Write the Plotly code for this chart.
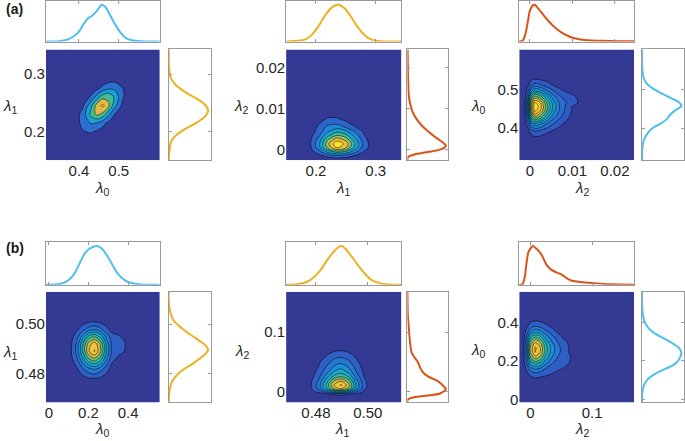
import plotly.graph_objects as go

W, H = 685, 441

# ---------------- axis ranges and ticks ----------------
lam0_a_range = [0.317, 0.603]
lam1_a_range = [0.150, 0.343]
lam2_a_range = [-0.0025, 0.0245]
lam0_b_range = [-0.015, 0.560]
lam1_b_range = [0.4685, 0.513]
lam2_b_range = [-0.018, 0.168]

lam0_a_ticks = [0.4, 0.5]
lam0_a_labels = ["0.4", "0.5"]
lam1_a_ticks = [0.2, 0.3]
lam1_a_labels = ["0.2", "0.3"]
lam2_a_ticks = [0, 0.01, 0.02]
lam2_a_labels = ["0", "0.01", "0.02"]
lam0_b_ticks = [0, 0.2, 0.4]
lam0_b_labels = ["0", "0.2", "0.4"]
lam1_b_ticks = [0.48, 0.50]
lam1_b_labels = ["0.48", "0.50"]
lam2_b_ticks = [0, 0.1]
lam2_b_labels = ["0", "0.1"]

# ---------------- marginal densities (normalised) ----------------
lam0_a_x = [0.317, 0.35, 0.37, 0.385, 0.40, 0.412, 0.423, 0.433, 0.445, 0.457, 0.467, 0.478, 0.49, 0.503, 0.516, 0.532, 0.555, 0.603]
lam0_a_d = [0, 0.01, 0.05, 0.13, 0.27, 0.48, 0.63, 0.70, 0.83, 1.0, 0.93, 0.72, 0.48, 0.26, 0.11, 0.035, 0.005, 0]

lam1_a_x = [0.15, 0.168, 0.1825, 0.193, 0.204, 0.215, 0.226, 0.237, 0.248, 0.259, 0.27, 0.281, 0.292, 0.309, 0.343]
lam1_a_d = [0, 0.02, 0.06, 0.18, 0.41, 0.70, 0.92, 1.0, 0.90, 0.66, 0.39, 0.18, 0.06, 0.01, 0]

lam2_a_x = [-0.0025, -0.0017, -0.0011, -0.0005, 0.0, 0.0006, 0.0011, 0.0021, 0.0033, 0.0044, 0.0059, 0.0075, 0.0094, 0.0113, 0.0135, 0.0166, 0.0211, 0.0245]
lam2_a_d = [0, 0.02, 0.18, 0.53, 0.83, 0.97, 1.0, 0.88, 0.70, 0.55, 0.38, 0.24, 0.13, 0.07, 0.035, 0.02, 0.01, 0.005]

lam0_b_x = [-0.015, 0.042, 0.0835, 0.1085, 0.1335, 0.1585, 0.1835, 0.2085, 0.242, 0.267, 0.292, 0.317, 0.342, 0.367, 0.40, 0.442, 0.492, 0.56]
lam0_b_d = [0, 0.01, 0.07, 0.16, 0.33, 0.59, 0.83, 0.94, 1.0, 0.94, 0.77, 0.55, 0.33, 0.18, 0.07, 0.02, 0, 0]

lam1_b_x = [0.4685, 0.4733, 0.4765, 0.479, 0.4817, 0.4843, 0.4868, 0.4887, 0.4898, 0.4913, 0.4939, 0.4965, 0.4991, 0.5017, 0.505, 0.5094, 0.513]
lam1_b_d = [0, 0.02, 0.07, 0.18, 0.37, 0.63, 0.85, 0.97, 1.0, 0.94, 0.72, 0.48, 0.27, 0.11, 0.035, 0, 0]

lam2_b_x = [-0.018, -0.013, -0.009, -0.007, -0.003, 0.004, 0.01, 0.0184, 0.026, 0.0337, 0.042, 0.05, 0.058, 0.066, 0.082, 0.104, 0.13, 0.168]
lam2_b_d = [0, 0.01, 0.2, 0.46, 0.85, 1.0, 0.93, 0.77, 0.52, 0.39, 0.32, 0.27, 0.18, 0.11, 0.07, 0.04, 0.01, 0]

# ---------------- joint densities (peak = 100) ----------------
a1_x = [0.39, 0.41, 0.43, 0.445, 0.46, 0.475, 0.49, 0.51, 0.53]
a1_y = [0.18, 0.20, 0.215, 0.23, 0.245, 0.26, 0.275, 0.29, 0.31]
a1_z = [
    [0, 1, 1, 0, 0, 0, 0, 0, 0],
    [5, 14, 17, 13, 6, 2, 0, 0, 0],
    [6, 21, 37, 35, 22, 10, 3, 0, 0],
    [4, 23, 61, 80, 69, 39, 15, 2, 0],
    [1, 12, 48, 85, 100, 77, 40, 9, 1],
    [0, 3, 18, 43, 68, 72, 51, 17, 3],
    [0, 0, 3, 10, 22, 32, 31, 15, 4],
    [0, 0, 0, 1, 3, 7, 9, 6, 2],
    [0, 0, 0, 0, 0, 0, 1, 1, 0],
]

a2_x = [0.17, 0.19, 0.205, 0.22, 0.235, 0.25, 0.265, 0.28, 0.295, 0.31]
a2_y = [-0.0025, -0.0015, -0.0005, 0.0005, 0.0015, 0.0025, 0.0035, 0.0045, 0.0055, 0.0065, 0.0075, 0.0085, 0.010, 0.012]
a2_z = [
    [0, 0, 1, 1, 2, 2, 1, 0, 0, 0],
    [0, 2, 7, 15, 20, 17, 10, 4, 1, 0],
    [1, 6, 19, 41, 55, 47, 28, 11, 3, 1],
    [1, 9, 32, 67, 90, 77, 46, 18, 5, 1],
    [1, 10, 35, 74, 100, 86, 51, 20, 5, 1],
    [1, 9, 30, 63, 85, 73, 43, 17, 4, 1],
    [1, 7, 23, 48, 65, 56, 33, 13, 3, 1],
    [0, 5, 17, 36, 48, 41, 24, 10, 2, 0],
    [0, 4, 15, 29, 33, 24, 13, 5, 1, 0],
    [0, 3, 11, 21, 22, 15, 8, 3, 1, 0],
    [0, 2, 7, 14, 14, 9, 5, 2, 0, 0],
    [0, 1, 4, 8, 8, 5, 3, 1, 0, 0],
    [0, 0, 2, 3, 3, 2, 1, 0, 0, 0],
    [0, 0, 0, 1, 1, 1, 1, 0, 0, 0],
]

a3_x = [-0.0025, -0.0012, -0.0005, 0.0003, 0.0012, 0.0025, 0.004, 0.0055, 0.007, 0.0085, 0.010, 0.012, 0.015]
a3_y = [0.34, 0.37, 0.39, 0.41, 0.43, 0.445, 0.455, 0.465, 0.48, 0.495, 0.51, 0.53, 0.56]
a3_z = [
    [0, 0, 0, 0, 0, 0, 0, 0, 0, 0, 0, 0, 0],
    [0, 0, 1, 3, 4, 4, 2, 2, 1, 1, 0, 0, 0],
    [0, 1, 4, 11, 14, 12, 9, 6, 4, 2, 1, 1, 0],
    [0, 2, 12, 29, 39, 34, 24, 16, 10, 6, 3, 2, 0],
    [0, 5, 23, 56, 75, 66, 47, 30, 19, 11, 6, 3, 0],
    [0, 6, 29, 72, 96, 84, 60, 38, 24, 14, 7, 4, 0],
    [0, 6, 30, 75, 100, 88, 62, 40, 25, 15, 7, 4, 0],
    [0, 6, 29, 71, 95, 84, 59, 38, 24, 17, 13, 5, 0],
    [0, 4, 22, 54, 72, 63, 45, 29, 18, 14, 11, 4, 0],
    [0, 3, 13, 33, 44, 39, 27, 18, 11, 7, 4, 2, 0],
    [0, 1, 6, 16, 21, 18, 13, 8, 5, 3, 2, 1, 0],
    [0, 0, 2, 4, 5, 4, 3, 2, 1, 1, 1, 0, 0],
    [0, 0, 0, 0, 0, 0, 0, 0, 0, 0, 0, 0, 0],
]

b1_x = [0.08, 0.11, 0.14, 0.17, 0.20, 0.23, 0.26, 0.29, 0.32, 0.35, 0.38, 0.41]
b1_y = [0.470, 0.474, 0.478, 0.482, 0.486, 0.489, 0.492, 0.495, 0.498, 0.501, 0.505, 0.509]
b1_z = [
    [0, 0, 0, 0, 0, 0, 0, 0, 0, 0, 0, 0],
    [0, 0, 1, 1, 2, 2, 2, 1, 0, 0, 0, 0],
    [0, 1, 3, 6, 9, 10, 8, 5, 2, 1, 0, 0],
    [1, 3, 9, 20, 30, 35, 28, 16, 6, 2, 0, 0],
    [2, 7, 20, 42, 65, 75, 61, 35, 14, 9, 4, 0],
    [2, 9, 25, 54, 86, 100, 79, 45, 17, 14, 11, 0],
    [2, 8, 24, 53, 82, 95, 76, 43, 17, 15, 13, 0],
    [1, 6, 17, 36, 56, 64, 52, 29, 16, 13, 8, 0],
    [1, 3, 8, 17, 26, 30, 24, 14, 5, 2, 0, 0],
    [0, 1, 3, 6, 9, 10, 8, 5, 2, 1, 0, 0],
    [0, 0, 0, 1, 1, 1, 1, 0, 0, 0, 0, 0],
    [0, 0, 0, 0, 0, 0, 0, 0, 0, 0, 0, 0],
]

b2_x = [0.470, 0.4745, 0.478, 0.481, 0.484, 0.487, 0.4897, 0.4925, 0.4955, 0.4985, 0.5015, 0.505]
b2_y = [-0.015, -0.008, -0.004, 0.0, 0.005, 0.011, 0.018, 0.025, 0.033, 0.042, 0.05, 0.06, 0.07, 0.085, 0.10]
b2_z = [
    [0, 0, 0, 0, 0, 0, 0, 0, 0, 0, 0, 0],
    [0, 0, 0, 1, 2, 3, 3, 2, 1, 0, 0, 0],
    [0, 0, 1, 4, 8, 13, 15, 12, 7, 2, 0, 0],
    [0, 1, 5, 13, 28, 44, 50, 41, 22, 8, 2, 0],
    [0, 2, 8, 23, 49, 77, 88, 72, 39, 13, 3, 0],
    [0, 2, 9, 26, 56, 88, 100, 82, 44, 15, 3, 0],
    [0, 2, 8, 22, 48, 76, 86, 71, 38, 13, 3, 0],
    [0, 1, 6, 17, 37, 58, 66, 54, 29, 10, 2, 0],
    [0, 1, 5, 13, 28, 44, 50, 41, 22, 8, 2, 0],
    [0, 1, 3, 10, 21, 33, 38, 31, 17, 6, 1, 0],
    [0, 1, 3, 8, 16, 26, 29, 24, 13, 4, 1, 0],
    [0, 0, 2, 5, 10, 16, 18, 15, 8, 3, 1, 0],
    [0, 0, 1, 2, 5, 8, 9, 7, 4, 1, 0, 0],
    [0, 0, 0, 1, 2, 3, 3, 2, 1, 0, 0, 0],
    [0, 0, 0, 0, 0, 0, 0, 0, 0, 0, 0, 0],
]

b3_x = [-0.018, -0.012, -0.006, 0.0, 0.008, 0.016, 0.025, 0.035, 0.045, 0.055, 0.065, 0.08]
b3_y = [0.06, 0.10, 0.13, 0.16, 0.19, 0.22, 0.245, 0.27, 0.295, 0.32, 0.35, 0.38, 0.41, 0.44, 0.48]
b3_z = [
    [0, 0, 0, 1, 1, 1, 1, 0, 0, 0, 0, 0],
    [0, 0, 2, 5, 6, 5, 4, 2, 1, 1, 0, 0],
    [0, 1, 6, 12, 16, 14, 12, 9, 5, 2, 1, 0],
    [0, 2, 12, 27, 34, 30, 20, 16, 12, 9, 5, 1],
    [0, 3, 21, 46, 59, 52, 35, 22, 18, 13, 9, 2],
    [0, 4, 29, 66, 84, 74, 50, 32, 20, 15, 10, 2],
    [0, 5, 34, 76, 98, 86, 59, 37, 24, 15, 8, 2],
    [0, 5, 35, 77, 100, 87, 59, 38, 24, 15, 8, 2],
    [0, 4, 31, 69, 88, 77, 53, 33, 21, 13, 7, 2],
    [0, 3, 24, 53, 68, 60, 41, 26, 16, 8, 4, 1],
    [0, 2, 15, 33, 42, 37, 25, 16, 8, 5, 3, 1],
    [0, 1, 7, 16, 21, 18, 13, 8, 5, 3, 2, 0],
    [0, 0, 3, 7, 9, 8, 5, 3, 2, 1, 1, 0],
    [0, 0, 1, 2, 3, 3, 2, 1, 1, 0, 0, 0],
    [0, 0, 0, 0, 0, 0, 0, 0, 0, 0, 0, 0],
]

# ---------------- styling ----------------
C0, C1, C2 = "#4DBEEE", "#EDB120", "#D95319"
PARULA = [
    [0.0, "#343a94"], [0.1, "#2f5cc4"], [0.2, "#2b6fd0"], [0.3, "#1f8ad8"],
    [0.4, "#19a0d6"], [0.5, "#20b4c4"], [0.6, "#44bb93"], [0.7, "#8fc062"],
    [0.8, "#e2b847"], [0.9, "#f4c53a"], [1.0, "#f6e526"],
]
FONT = "Liberation Sans, Arial, sans-serif"
TXT = "#262626"
FRAME = "#9a9a9a"

# page-pixel geometry of each block
cols = [dict(main=(45, 159), right=(168, 210)),
        dict(main=(285.5, 401), right=(407, 448)),
        dict(main=(519, 634), right=(642, 684))]
rows = [dict(top=(1, 42), main=(50, 162)),
        dict(top=(245, 288), main=(295, 407))]


def fx(px):
    return min(1.0, max(0.0, px / W))


def fy(py):
    return min(1.0, max(0.0, 1 - py / H))


def lam(n):
    return "<i>λ</i><sub>%d</sub>" % n


panels = [
    dict(gx=a1_x, gy=a1_y, gz=a1_z, lev=(15, 95, 20), xr=lam0_a_range, yr=lam1_a_range,
         xt=(lam0_a_ticks, lam0_a_labels), yt=(lam1_a_ticks, lam1_a_labels),
         top=(lam0_a_x, lam0_a_d, C0), right=(lam1_a_x, lam1_a_d, C1), col=0, row=0,
         xl=(lam(0), 101, 191), yl=(lam(1), 9, 108)),
    dict(gx=a2_x, gy=a2_y, gz=a2_z, lev=(12, 90, 13), xr=lam1_a_range, yr=lam2_a_range,
         xt=(lam1_a_ticks, lam1_a_labels), yt=(lam2_a_ticks, lam2_a_labels),
         top=(lam1_a_x, lam1_a_d, C1), right=(lam2_a_x, lam2_a_d, C2), col=1, row=0,
         xl=(lam(1), 343, 191), yl=(lam(2), 240, 108)),
    dict(gx=a3_x, gy=a3_y, gz=a3_z, lev=(8, 93, 8.5), xr=lam2_a_range, yr=lam0_a_range,
         xt=(lam2_a_ticks, lam2_a_labels), yt=(lam0_a_ticks, lam0_a_labels),
         top=(lam2_a_x, lam2_a_d, C2), right=(lam0_a_x, lam0_a_d, C0), col=2, row=0,
         xl=(lam(2), 582, 191), yl=(lam(0), 478, 108)),
    dict(gx=b1_x, gy=b1_y, gz=b1_z, lev=(11, 99, 11), xr=lam0_b_range, yr=lam1_b_range,
         xt=(lam0_b_ticks, lam0_b_labels), yt=(lam1_b_ticks, lam1_b_labels),
         top=(lam0_b_x, lam0_b_d, C0), right=(lam1_b_x, lam1_b_d, C1), col=0, row=1,
         xl=(lam(0), 101, 434), yl=(lam(1), 9, 357)),
    dict(gx=b2_x, gy=b2_y, gz=b2_z, lev=(10, 98, 11), xr=lam1_b_range, yr=lam2_b_range,
         xt=(lam1_b_ticks, lam1_b_labels), yt=(lam2_b_ticks, lam2_b_labels),
         top=(lam1_b_x, lam1_b_d, C1), right=(lam2_b_x, lam2_b_d, C2), col=1, row=1,
         xl=(lam(1), 341, 434), yl=(lam(2), 241, 356)),
    dict(gx=b3_x, gy=b3_y, gz=b3_z, lev=(10, 98, 11), xr=lam2_b_range, yr=lam0_b_range,
         xt=(lam2_b_ticks, lam2_b_labels), yt=(lam0_b_ticks, lam0_b_labels),
         top=(lam2_b_x, lam2_b_d, C2), right=(lam0_b_x, lam0_b_d, C0), col=2, row=1,
         xl=(lam(2), 582, 434), yl=(lam(0), 478, 355)),
]


def pad(xg, yg, z, xr, yr):
    xs, ys = list(xg), list(yg)
    zz = [list(r) for r in z]
    if xr[0] < xs[0] - 1e-12:
        xs = [xr[0]] + xs
        zz = [[0] + r for r in zz]
    if xr[1] > xs[-1] + 1e-12:
        xs = xs + [xr[1]]
        zz = [r + [0] for r in zz]
    n = len(xs)
    if yr[0] < ys[0] - 1e-12:
        ys = [yr[0]] + ys
        zz = [[0] * n] + zz
    if yr[1] > ys[-1] + 1e-12:
        ys = ys + [yr[1]]
        zz = zz + [[0] * n]
    return xs, ys, zz


def sfx(n):
    return "" if n == 1 else str(n)


fig = go.Figure()
layout = {}
annotations = []
tickfont = dict(family=FONT, size=15, color=TXT)

for i, p in enumerate(panels):
    m, t, r = 3 * i + 1, 3 * i + 2, 3 * i + 3
    cx0, cx1 = cols[p["col"]]["main"]
    rx0, rx1 = cols[p["col"]]["right"]
    ty0, ty1 = rows[p["row"]]["top"]
    my0, my1 = rows[p["row"]]["main"]
    xdom = [fx(cx0), fx(cx1)]
    ydom = [fy(my1), fy(my0)]
    tdom = [fy(ty1), fy(ty0)]
    rdom = [fx(rx0), fx(rx1)]

    xs, ys, zs = pad(p["gx"], p["gy"], p["gz"], p["xr"], p["yr"])
    s, e, sz = p["lev"]
    fig.add_trace(go.Contour(
        x=xs, y=ys, z=zs, xaxis="x" + sfx(m), yaxis="y" + sfx(m),
        autocontour=False, contours=dict(start=s, end=e, size=sz, coloring="fill"),
        colorscale=PARULA, showscale=False,
        line=dict(color="black", width=0.5, smoothing=1.0), hoverinfo="skip"))

    tx, td, tc = p["top"]
    fig.add_trace(go.Scatter(x=tx, y=td, mode="lines", xaxis="x" + sfx(t), yaxis="y" + sfx(t),
                             line=dict(color=tc, width=2, shape="spline", smoothing=0.7),
                             showlegend=False, hoverinfo="skip"))
    rx, rd, rc = p["right"]
    fig.add_trace(go.Scatter(x=rd, y=rx, mode="lines", xaxis="x" + sfx(r), yaxis="y" + sfx(r),
                             line=dict(color=rc, width=2, shape="spline", smoothing=0.7),
                             showlegend=False, hoverinfo="skip"))

    # main axes
    layout["xaxis" + sfx(m)] = dict(domain=xdom, range=p["xr"], anchor="y" + sfx(m),
                                    tickvals=p["xt"][0], ticktext=p["xt"][1], ticks="",
                                    showgrid=False, zeroline=False, showline=False,
                                    tickfont=tickfont)
    layout["yaxis" + sfx(m)] = dict(domain=ydom, range=p["yr"], anchor="x" + sfx(m),
                                    tickvals=p["yt"][0], ticktext=p["yt"][1], ticks="",
                                    showgrid=False, zeroline=False, showline=False,
                                    tickfont=tickfont)
    # top marginal
    layout["xaxis" + sfx(t)] = dict(domain=xdom, range=p["xr"], anchor="y" + sfx(t),
                                    tickvals=p["xt"][0], ticks="inside", ticklen=3,
                                    tickcolor=FRAME, showticklabels=False, showgrid=False,
                                    zeroline=False, showline=True, linecolor=FRAME,
                                    linewidth=1, mirror="ticks")
    layout["yaxis" + sfx(t)] = dict(domain=tdom, range=[0, 1.1], anchor="x" + sfx(t),
                                    showticklabels=False, ticks="", showgrid=False,
                                    zeroline=False, showline=True, linecolor=FRAME,
                                    linewidth=1, mirror=True)
    # right marginal
    layout["xaxis" + sfx(r)] = dict(domain=rdom, range=[0, 1.065], anchor="y" + sfx(r),
                                    showticklabels=False, ticks="", showgrid=False,
                                    zeroline=False, showline=True, linecolor=FRAME,
                                    linewidth=1, mirror=True)
    layout["yaxis" + sfx(r)] = dict(domain=ydom, range=p["yr"], anchor="x" + sfx(r),
                                    tickvals=p["yt"][0], ticks="inside", ticklen=3,
                                    tickcolor=FRAME, showticklabels=False, showgrid=False,
                                    zeroline=False, showline=True, linecolor=FRAME,
                                    linewidth=1, mirror="ticks")

    for (txt, px, py) in (p["xl"], p["yl"]):
        annotations.append(dict(text=txt, x=fx(px), y=fy(py), xref="paper", yref="paper",
                                xanchor="center", yanchor="middle", showarrow=False,
                                font=dict(family=FONT, size=15, color=TXT)))

for lbl, px, py in (("(a)", 14, 9), ("(b)", 14, 251)):
    annotations.append(dict(text="<b>%s</b>" % lbl, x=fx(px), y=fy(py), xref="paper",
                            yref="paper", xanchor="center", yanchor="middle", showarrow=False,
                            font=dict(family=FONT, size=14, color="#1a1a1a")))

fig.update_layout(width=W, height=H, margin=dict(l=0, r=0, t=0, b=0),
                  paper_bgcolor="white", plot_bgcolor="white", showlegend=False,
                  annotations=annotations, **layout)

# remove the browser's default 8px page margin so the figure sits at the window origin
fig.write_html("out.html", config={"displayModeBar": False},
               post_script="document.body.style.margin='0px';")
